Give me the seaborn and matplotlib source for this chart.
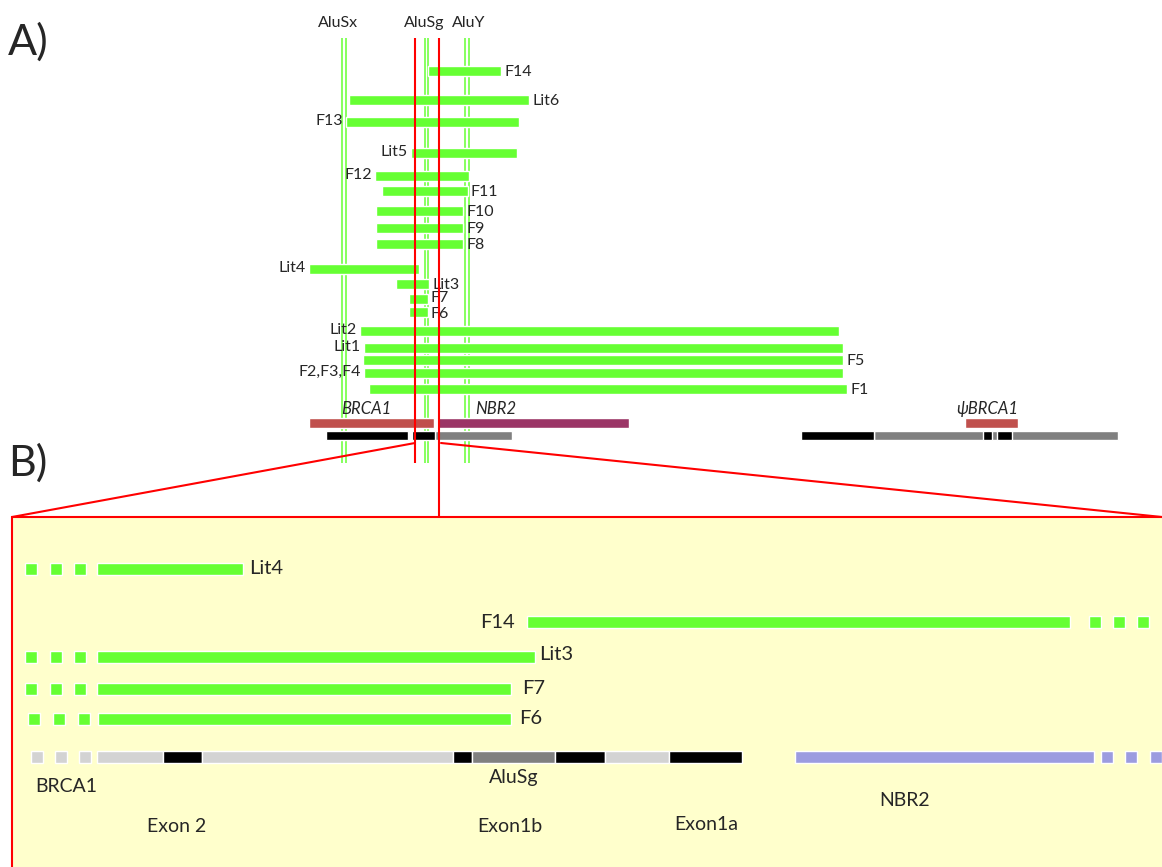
import numpy as np
import pandas as pd
import seaborn as sns
import matplotlib.pyplot as plt

sns.set_style("white")
plt.rcParams['font.family'] = ['Lato', 'DejaVu Sans']

# ---- panel A: deletion fragments (positions along the schematic axis) ----
frag_names = ['F14', 'Lit6', 'F13', 'Lit5', 'F12', 'F11', 'F10', 'F9', 'F8',
              'Lit4', 'Lit3', 'F7', 'F6', 'Lit2', 'Lit1', 'F5', 'F2,F3,F4', 'F1']
frag_start = [428, 349, 346, 411, 375, 382, 376, 376, 376,
              309, 396, 409, 409, 360, 364, 363, 364, 369]
frag_end = [501, 529, 519, 517, 469, 468, 463, 463, 463,
            419, 429, 428, 428, 839, 843, 843, 843, 847]
frag_row = [71, 100, 122, 153, 176, 191, 211, 228, 244,
            269, 284, 299, 312, 331, 348, 360, 373, 389]
frag_side = ['R', 'R', 'L', 'L', 'L', 'R', 'R', 'R', 'R',
             'L', 'R', 'R', 'R', 'L', 'L', 'R', 'L', 'R']

# Alu elements and breakpoints
alu_names = ['AluSx', 'AluSg', 'AluY']
alu_pos = [344, 426.5, 467]
bp_pos = [415, 439]

# genes (panel A)
gene_names = ['BRCA1', 'NBR2', 'ψBRCA1']
gene_start = [309, 437, 965]
gene_end = [434, 629, 1018]
gene_colors = ['#C0504D', '#9B3566', '#C0504D']

# exon track (panel A)
trackA_start = [326, 412, 435, 801, 874, 983, 997]
trackA_end = [408, 435, 512, 874, 1118, 992, 1012]
trackA_kind = ['exon', 'exon', 'intron', 'exon', 'intron', 'exon', 'exon']

# ---- panel B: zoomed region ----
b_names = ['Lit4', 'F14', 'Lit3', 'F7', 'F6']
b_start = [97, 527, 97, 97, 98]
b_end = [243, 1070, 535, 511, 511]
b_row = [569, 622, 657, 689, 719]
b_dots_left = [[25, 50, 74], [], [25, 50, 74], [25, 50, 74], [28, 53, 78]]
b_dots_right = [[], [1089, 1113, 1137], [], [], []]

trackB_start = [97, 163, 202, 453, 472, 555, 605, 669, 795]
trackB_end = [163, 202, 453, 472, 555, 605, 669, 742, 1094]
trackB_kind = ['intron', 'exon', 'intron', 'exon', 'alu', 'exon', 'intron', 'exon', 'nbr2']
trackB_dots_left = [31, 55, 79]
trackB_dots_right = [1101, 1125, 1150]

b_text = ['BRCA1', 'AluSg', 'Exon 2', 'Exon1b', 'Exon1a', 'NBR2']
b_text_x = [66, 514, 177, 510, 706, 905]
b_text_y = [787, 777, 826, 826, 825, 800]

GREEN = '#66FF33'
RED = '#FF0000'
kind_colors = {'exon': 'black', 'intron': '#808080'}
kindB_colors = {'exon': 'black', 'intron': '#D3D3D3', 'alu': '#808080', 'nbr2': '#9C9CE0'}

fig = plt.figure(figsize=(11.62, 8.67), dpi=100)
ax = fig.add_axes([0, 0, 1, 1])
ax.set_xlim(0, 1162)
ax.set_ylim(867, 0)
ax.axis('off')

# panel B background box
ax.add_patch(plt.Rectangle((12, 517), 1200, 400, facecolor='#FFFFCC',
                           edgecolor=RED, lw=1.5, zorder=0))

# Alu double lines
for x in alu_pos:
    for dx in (-1.8, 1.8):
        ax.vlines(x + dx, 38, 463, color=GREEN, lw=1.1, zorder=1)
for name, x in zip(alu_names, alu_pos):
    ax.text(x - (6 if name == 'AluSx' else 2 if name == 'AluSg' else -2), 23, name,
            ha='center', va='center', fontsize=11.5)

# fragments panel A
frag = pd.DataFrame({'name': frag_names, 'start': frag_start, 'end': frag_end,
                     'row': frag_row, 'side': frag_side})
ax.barh(frag['row'], frag['end'] - frag['start'], left=frag['start'],
        height=10, color=GREEN, zorder=2)
nudge = {'F7': -0.5, 'F6': 2.5}
for _, r in frag.iterrows():
    if r['side'] == 'R':
        ax.text(r['end'] + 3, r['row'] + nudge.get(r['name'], 1), r['name'],
                ha='left', va='center', fontsize=11.5)
    else:
        ax.text(r['start'] - 3, r['row'] - 1, r['name'], ha='right', va='center', fontsize=11.5)

# genes panel A
ax.barh([423] * 3, np.subtract(gene_end, gene_start), left=gene_start,
        height=10, color=gene_colors, zorder=2)
for name, s, e in zip(gene_names, gene_start, gene_end):
    cx = {'BRCA1': 366, 'NBR2': 496, 'ψBRCA1': (s + e) / 2 - 4}[name]
    ax.text(cx, 409, name, ha='center', va='center', fontsize=12, style='italic')

order = sorted(range(len(trackA_kind)), key=lambda i: trackA_kind[i] == 'exon')
for i in order:
    ax.barh(435, trackA_end[i] - trackA_start[i], left=trackA_start[i], height=9,
            color=kind_colors[trackA_kind[i]], zorder=2)

# breakpoints (red)
ax.vlines(bp_pos[0], 38, 463, color=RED, lw=1.5, zorder=3)
ax.vlines(bp_pos[1], 38, 517, color=RED, lw=1.5, zorder=3)
ax.plot([bp_pos[0], 12], [443, 517], color=RED, lw=1.5, zorder=3)
ax.plot([bp_pos[1] + 2, 1162], [443, 517], color=RED, lw=1.5, zorder=3)

ax.text(8, 42, 'A)', ha='left', va='center', fontsize=31)
ax.text(8, 463, 'B)', ha='left', va='center', fontsize=31)

# panel B fragments
ax.barh(b_row, np.subtract(b_end, b_start), left=b_start, height=12, color=GREEN, zorder=2)
for y, dl, dr in zip(b_row, b_dots_left, b_dots_right):
    for d in dl + dr:
        ax.barh(y, 12, left=d, height=12, color=GREEN, zorder=2)
lab_pos = {'Lit4': (249, 'left', 0), 'F14': (515, 'right', 0), 'Lit3': (539, 'left', -3),
           'F7': (522, 'left', 0), 'F6': (519, 'left', 0)}
for name, y in zip(b_names, b_row):
    x, ha, dy = lab_pos[name]
    ax.text(x, y + dy, name, ha=ha, va='center', fontsize=14.5)

# panel B gene track
for s, e, k in zip(trackB_start, trackB_end, trackB_kind):
    ax.barh(757, e - s, left=s, height=12, color=kindB_colors[k], zorder=2)
for d in trackB_dots_left:
    ax.barh(757, 12, left=d, height=12, color='#D3D3D3', zorder=2)
for d in trackB_dots_right:
    ax.barh(757, 12, left=d, height=12, color='#9C9CE0', zorder=2)
for t, x, y in zip(b_text, b_text_x, b_text_y):
    ax.text(x, y, t, ha='center', va='center', fontsize=14)

fig.savefig('out.png', dpi=100)
